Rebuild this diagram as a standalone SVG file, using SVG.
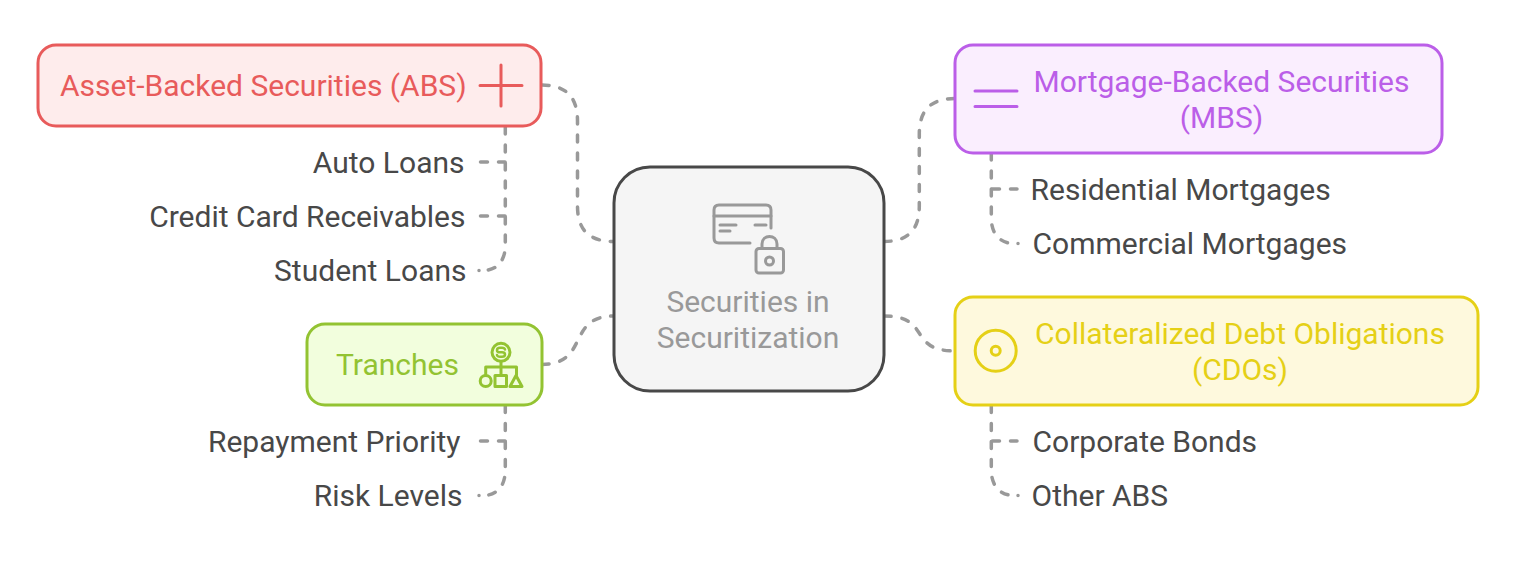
<svg xmlns="http://www.w3.org/2000/svg" width="1515" height="587" viewBox="0 0 1515 587">
<style>
text{font-family:Roboto,"Liberation Sans",sans-serif;font-size:30px}
.c{fill:none;stroke:#999;stroke-width:3.500;stroke-dasharray:7 11;stroke-linecap:round}
.n{stroke-width:3}
.i{fill:none;stroke-width:3;stroke-linecap:round;stroke-linejoin:round}
.l{fill:#484848}
.m{text-anchor:middle}
.e{text-anchor:end}
</style>
<rect width="1515" height="587" fill="#fff"/>
<g id="connectors">
<path class="c" d="M542 85C566 85 577.500 97 577.500 121V206C577.500 230 589 241.500 614 241.500"/>
<path class="c" d="M884 241.500C908 241.500 919.300 230 919.300 206V134C919.300 110 931 98.500 955 98.500"/>
<path class="c" d="M542 364.500C590 364 566 316 614 316"/>
<path class="c" d="M884 316C932 316 907 351 955 351"/>
<path class="c" d="M505.300 127V245C505.300 262 496 270.500 483 270.500M479 270.500h.01"/>
<path class="c" d="M480.500 162H505"/>
<path class="c" d="M480.500 216H505"/>
<path class="c" d="M505.300 405.500V470C505.300 487 496 495.500 483 495.500M479 495.500h.01"/>
<path class="c" d="M480.500 441H505"/>
<path class="c" d="M991.300 153V218C991.300 235 1001 243.500 1014 243.500M1018 243.500h.01"/>
<path class="c" d="M992.500 189H1017"/>
<path class="c" d="M991.300 405.500V470C991.300 487 1001 495.500 1014 495.500M1018 495.500h.01"/>
<path class="c" d="M992.500 441H1017"/>
</g>
<g id="node-center">
<rect class="n" x="614" y="167" width="270" height="224" rx="36" fill="#f5f5f5" stroke="#484848"/>
<g class="i" stroke="#999">
<path d="M771 228V210Q771 205 766 205H719Q714 205 714 210V238Q714 243 719 243H750"/>
<path d="M714 216H771M720 225H736M720 231H730M755 225H766"/>
<rect x="756" y="248.500" width="27.500" height="24.500" rx="3"/>
<path d="M762 248V244C762 234 777 234 777 244V248"/>
<circle cx="769.500" cy="261" r="4"/>
</g>
<text class="m" x="748" y="312" fill="#999">Securities in</text>
<text class="m" x="748" y="348" fill="#999">Securitization</text>
</g>
<g id="node-abs">
<rect class="n" x="38" y="45" width="503" height="81" rx="18" fill="#feecec" stroke="#e85b5b"/>
<path class="i" stroke="#e85b5b" d="M480 85.500H522M501 65V106"/>
<text x="60" y="96" fill="#e85b5b">Asset-Backed Securities (ABS)</text>
</g>
<g id="node-mbs">
<rect class="n" x="955" y="45" width="487" height="108" rx="18" fill="#faeefe" stroke="#bb5ee8"/>
<path class="i" stroke="#bb5ee8" d="M975 91H1017M975 106.500H1017"/>
<text class="m" x="1221.500" y="92" fill="#bb5ee8">Mortgage-Backed Securities</text>
<text class="m" x="1221.500" y="128" fill="#bb5ee8">(MBS)</text>
</g>
<g id="node-tranches">
<rect class="n" x="307" y="324" width="235" height="81" rx="18" fill="#f2fedd" stroke="#93c332"/>
<g class="i" stroke="#93c332">
<circle cx="501" cy="352.300" r="9"/>
<path stroke-width="2.500" d="M505 349.500Q504.500 347.800 502 347.800H500Q497 347.800 497 350.200Q497 352.300 500 352.300H502Q505 352.300 505 354.500Q505 356.800 502 356.800H500Q497.500 356.800 497 355"/>
<path d="M501 362V375M485.700 375V367H516.500V375"/>
<circle cx="485.700" cy="381" r="5.500"/>
<rect x="495" y="375.500" width="11.500" height="11"/>
<path d="M516 375.500L522 386.500H510Z"/>
</g>
<text x="336" y="375" fill="#93c332">Tranches</text>
</g>
<g id="node-cdo">
<rect class="n" x="955" y="297" width="523" height="108" rx="18" fill="#fef9dd" stroke="#e5d016"/>
<g class="i" stroke="#e5d016">
<circle cx="995.700" cy="350.700" r="20.500"/>
<circle cx="995.700" cy="350.700" r="4.500"/>
</g>
<text class="m" x="1240" y="344" fill="#e5d016">Collateralized Debt Obligations</text>
<text class="m" x="1240" y="380" fill="#e5d016">(CDOs)</text>
</g>
<g id="leaf-auto"><text class="l e" x="464.500" y="173">Auto Loans</text></g>
<g id="leaf-credit"><text class="l e" x="465.500" y="227">Credit Card Receivables</text></g>
<g id="leaf-student"><text class="l e" x="466.500" y="281">Student Loans</text></g>
<g id="leaf-repayment"><text class="l e" x="460.500" y="452">Repayment Priority</text></g>
<g id="leaf-risk"><text class="l e" x="462.500" y="506">Risk Levels</text></g>
<g id="leaf-residential"><text class="l" x="1030.500" y="200">Residential Mortgages</text></g>
<g id="leaf-commercial"><text class="l" x="1032.500" y="254">Commercial Mortgages</text></g>
<g id="leaf-corporate"><text class="l" x="1032.500" y="452">Corporate Bonds</text></g>
<g id="leaf-other"><text class="l" x="1031.500" y="506">Other ABS</text></g>
</svg>
